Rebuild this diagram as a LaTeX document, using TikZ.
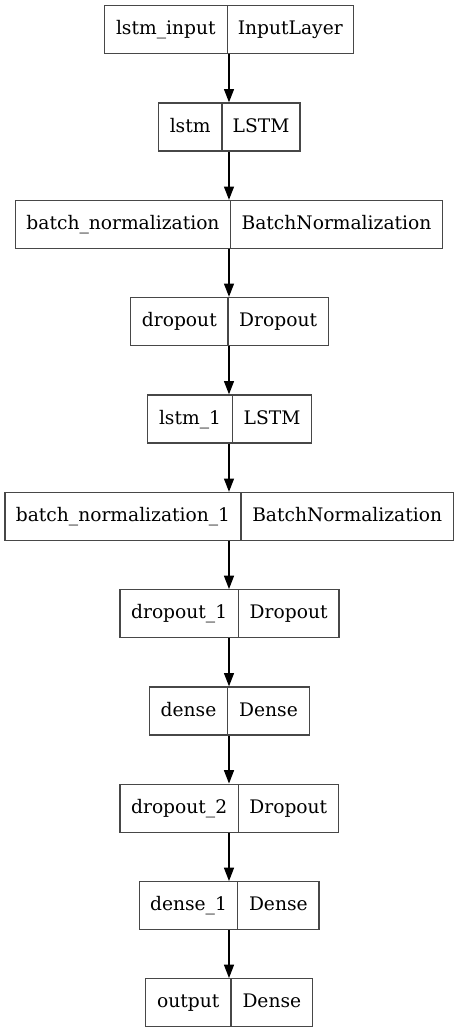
\documentclass[tikz,border=0pt]{standalone}
\usepackage{fontspec}
\setmainfont{DejaVu Serif}
\usetikzlibrary{arrows.meta,fit}

% one layer: name, top, left, divider, right, layer name, layer class
\newcommand\kerasLayer[7]{%
  \node[layerframe, fit={(#3,#2) (#5,#2+48)}] (#1) {};
  \draw[layerframe] (#4,#2) -- (#4,#2+48);
  \node[celltext] (#1-name) at ({(#3+#4)/2},#2+29) {#6};
  \node[celltext] (#1-class) at ({(#4+#5)/2},#2+29) {#7};
}

\begin{document}
\begin{tikzpicture}[x=0.75pt,y=-0.75pt,
  layerframe/.style={draw=black!72, line width=1pt, inner sep=0pt},
  celltext/.style={anchor=base, inner sep=0pt, font=\fontsize{14}{17}\selectfont},
  flow/.style={draw=black, line width=1pt, -{Triangle[length=10pt,width=7.5pt]}}]
  \useasboundingbox (0,0) rectangle (459,1033);

  \kerasLayer{l1}{5.7}{104.3}{227.3}{353.3}{lstm\_input}{InputLayer}
  \kerasLayer{l2}{103}{158.3}{222}{300}{lstm}{LSTM}
  \kerasLayer{l3}{200.5}{15.7}{230.3}{442.7}{batch\_normalization}{BatchNormalization}
  \kerasLayer{l4}{297.5}{130.7}{228}{328.3}{dropout}{Dropout}
  \kerasLayer{l5}{395}{147.3}{232.7}{311.3}{lstm\_1}{LSTM}
  \kerasLayer{l6}{492.5}{5}{241}{453.3}{batch\_normalization\_1}{BatchNormalization}
  \kerasLayer{l7}{589.7}{120}{238.3}{339}{dropout\_1}{Dropout}
  \kerasLayer{l8}{687}{149.3}{227.7}{309.3}{dense}{Dense}
  \kerasLayer{l9}{784.2}{120}{238.3}{338.3}{dropout\_2}{Dropout}
  \kerasLayer{l10}{881.7}{139.3}{237.7}{319}{dense\_1}{Dense}
  \kerasLayer{l11}{978.7}{145.7}{231}{312.7}{output}{Dense}

  % straight vertical edges down the common axis
  \coordinate (axis) at (229,0);
  \foreach \a/\b in {l1/l2,l2/l3,l3/l4,l4/l5,l5/l6,l6/l7,l7/l8,l8/l9,l9/l10,l10/l11}
    \draw[flow] (axis |- \a.south) -- (axis |- \b.north);
\end{tikzpicture}
\end{document}
